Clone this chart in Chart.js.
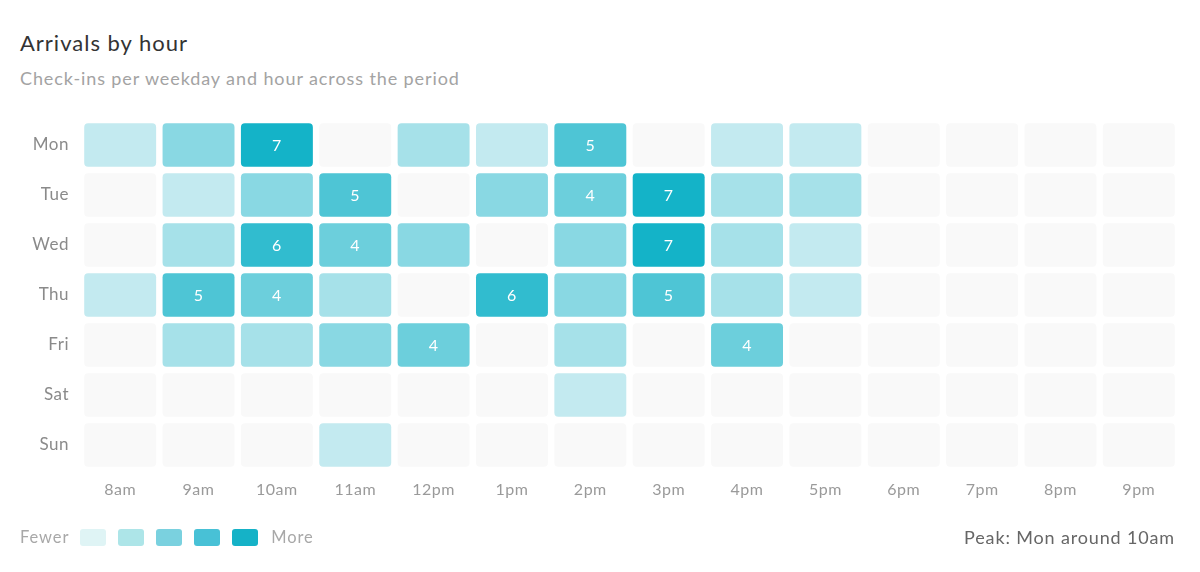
<!DOCTYPE html>
<html>
<head>
<meta charset="utf-8">
<script src="https://cdn.jsdelivr.net/npm/chart.js@4.4.1/dist/chart.umd.min.js"></script>
<style>
  html, body { margin: 0; padding: 0; background: #ffffff; }
  body { width: 1200px; height: 572px; position: relative; overflow: hidden; font-family: Lato, "Open Sans", sans-serif; }
  #title { position: absolute; left: 20px; top: 29px; font-size: 22px; letter-spacing: 1px; color: #333333; white-space: nowrap; }
  #subtitle { position: absolute; left: 20px; top: 67px; font-size: 18px; color: #a3a3a3; white-space: nowrap; letter-spacing: 0.9px; }
  #wrap { position: absolute; left: 0; top: 0; width: 1200px; height: 572px; }
  #legend { position: absolute; left: 20px; top: 527px; height: 20px; display: flex; align-items: center; font-size: 16.5px; color: #a8a8a8; letter-spacing: 0.9px; }
  .sw { width: 26px; height: 17px; border-radius: 3px; margin-right: 12px; }
  #peak { position: absolute; right: 25px; top: 526px; font-size: 18px; color: #666666; white-space: nowrap; letter-spacing: 0.85px; }
</style>
</head>
<body>
<div id="title">Arrivals by hour</div>
<div id="subtitle">Check-ins per weekday and hour across the period</div>
<div id="wrap"><canvas id="c" width="1200" height="572"></canvas></div>
<div id="legend"></div>
<div id="peak">Peak: Mon around 10am</div>
<script>
const days = ['Mon', 'Tue', 'Wed', 'Thu', 'Fri', 'Sat', 'Sun'];
const hours = ['8am', '9am', '10am', '11am', '12pm', '1pm', '2pm', '3pm', '4pm', '5pm', '6pm', '7pm', '8pm', '9pm'];
const monValues = [1, 3, 7, 0, 2, 1, 5, 0, 1, 1, 0, 0, 0, 0];
const tueValues = [0, 1, 3, 5, 0, 3, 4, 7, 2, 2, 0, 0, 0, 0];
const wedValues = [0, 2, 6, 4, 3, 0, 3, 7, 2, 1, 0, 0, 0, 0];
const thuValues = [1, 5, 4, 2, 0, 6, 3, 5, 2, 1, 0, 0, 0, 0];
const friValues = [0, 2, 2, 3, 4, 0, 2, 0, 4, 0, 0, 0, 0, 0];
const satValues = [0, 0, 0, 0, 0, 0, 1, 0, 0, 0, 0, 0, 0, 0];
const sunValues = [0, 0, 0, 1, 0, 0, 0, 0, 0, 0, 0, 0, 0, 0];
const rows = [monValues, tueValues, wedValues, thuValues, friValues, satValues, sunValues];
const legendColors = ['#dff4f5', '#ade5e8', '#7ad1df', '#48c1d6', '#15b2c7'];
const labelThreshold = 4;

const maxVal = 7;
function colorFor(v) {
  if (v <= 0) return '#f9f9f9';
  const lo = [195, 234, 240], hi = [20, 179, 200];
  const t = (v - 1) / (maxVal - 1);
  const c = lo.map((a, k) => Math.round(a + (hi[k] - a) * t));
  return 'rgb(' + c.join(',') + ')';
}

const lg = document.getElementById('legend');
const fewer = document.createElement('span'); fewer.textContent = 'Fewer'; fewer.style.marginRight = '11px';
lg.appendChild(fewer);
legendColors.forEach(c => { const d = document.createElement('div'); d.className = 'sw'; d.style.background = c; lg.appendChild(d); });
const more = document.createElement('span'); more.textContent = 'More'; more.style.marginLeft = '1px';
lg.appendChild(more);

const halfH = 0.433;
const datasets = rows.map((vals, i) => ({
  label: days[i],
  data: vals.map(() => [i - halfH, i + halfH]),
  values: vals,
  backgroundColor: vals.map(colorFor),
  borderWidth: 0,
  borderRadius: 4,
  borderSkipped: false,
  grouped: false,
  barPercentage: 0.918,
  categoryPercentage: 1.0
}));

const spacing = {
  id: 'spacing',
  beforeDraw(chart) { chart.ctx.letterSpacing = '0.5px'; }
};

const valueLabels = {
  id: 'valueLabels',
  afterDatasetsDraw(chart) {
    const ctx = chart.ctx;
    ctx.save();
    ctx.font = '16px Lato, "Open Sans", sans-serif';
    ctx.fillStyle = '#ffffff';
    ctx.textAlign = 'center';
    ctx.textBaseline = 'middle';
    chart.data.datasets.forEach((ds, di) => {
      const meta = chart.getDatasetMeta(di);
      meta.data.forEach((el, j) => {
        const v = ds.values[j];
        if (v >= labelThreshold) {
          ctx.fillText(String(v), el.x, (el.y + el.base) / 2 + 1);
        }
      });
    });
    ctx.restore();
  }
};

new Chart(document.getElementById('c'), {
  type: 'bar',
  data: { labels: hours, datasets },
  plugins: [spacing, valueLabels],
  options: {
    responsive: false,
    animation: false,
    events: [],
    layout: { padding: { left: 0, right: 22, top: 120, bottom: 62 } },
    plugins: { legend: { display: false }, tooltip: { enabled: false }, title: { display: false } },
    scales: {
      x: {
        type: 'category',
        offset: true,
        grid: { display: false, drawTicks: false },
        border: { display: false },
        ticks: { color: '#9a9a9a', font: { size: 16, family: 'Lato, "Open Sans", sans-serif' }, padding: 10, maxRotation: 0, autoSkip: false },
        afterFit(scale) { scale.height = 40; }
      },
      y: {
        type: 'linear',
        reverse: true,
        min: -0.5,
        max: 6.5,
        grid: { display: false, drawTicks: false },
        border: { display: false },
        afterBuildTicks(scale) { scale.ticks = days.map((d, i) => ({ value: i })); },
        ticks: {
          color: '#8a8a8a',
          font: { size: 17, family: 'Lato, "Open Sans", sans-serif' },
          padding: 12,
          callback: (v) => days[v]
        },
        afterFit(scale) { scale.width = 81; }
      }
    }
  }
});
</script>
</body>
</html>
